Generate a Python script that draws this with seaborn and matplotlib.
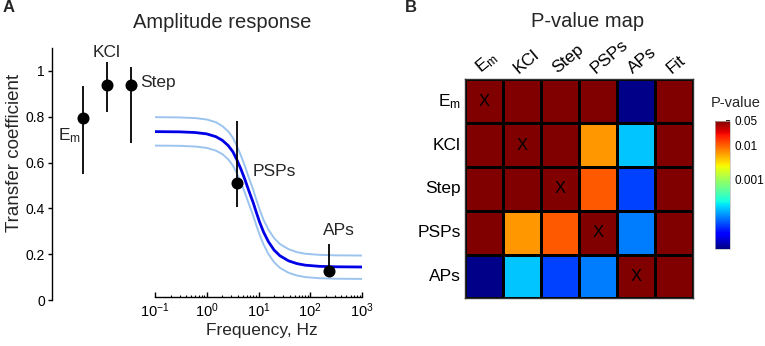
import numpy as np
import pandas as pd
import matplotlib
matplotlib.use('Agg')
import matplotlib.pyplot as plt
import matplotlib.transforms as mtransforms
from matplotlib.colors import LogNorm
import seaborn as sns

# ---- data: panel A, stationary measures ----
cat_labels = ['E$_\\mathrm{m}$', 'KCl', 'Step']
cat_value = [0.793, 0.939, 0.939]
cat_low = [0.55, 0.82, 0.687]
cat_high = [0.934, 1.04, 1.019]

# ---- data: panel A, frequency measures ----
freq_labels = ['PSPs', 'APs']
freq_hz = [3.8, 230]
freq_value = [0.51, 0.128]
freq_low = [0.407, 0.115]
freq_high = [0.783, 0.243]

# fitted amplitude response and its confidence band
fit_freq = [0.1, 0.3, 0.6, 1.0, 1.5, 2.0, 2.6, 3.2, 3.8, 4.6, 5.5, 6.5, 7.9,
            9.0, 10.5, 12.5, 15.5, 20, 26, 38, 55, 80, 150, 300, 1000]
fit_mean = [0.735, 0.734, 0.731, 0.725, 0.713, 0.697, 0.674, 0.647, 0.613,
            0.570, 0.524, 0.477, 0.425, 0.385, 0.340, 0.297, 0.255, 0.218,
            0.193, 0.171, 0.159, 0.152, 0.147, 0.145, 0.144]
fit_upper = [0.798, 0.797, 0.794, 0.788, 0.776, 0.759, 0.736, 0.708, 0.674,
             0.629, 0.582, 0.534, 0.481, 0.440, 0.395, 0.350, 0.308, 0.270,
             0.244, 0.222, 0.209, 0.202, 0.197, 0.195, 0.194]
fit_lower = [0.674, 0.673, 0.670, 0.664, 0.652, 0.637, 0.614, 0.587, 0.554,
             0.512, 0.466, 0.420, 0.368, 0.329, 0.285, 0.243, 0.201, 0.165,
             0.140, 0.119, 0.107, 0.100, 0.095, 0.093, 0.092]

# ---- data: panel B, p-values (1 = not significant) ----
row_labels = ['E$_\\mathrm{m}$', 'KCl', 'Step', 'PSPs', 'APs']
col_labels = ['E$_\\mathrm{m}$', 'KCl', 'Step', 'PSPs', 'APs', 'Fit']
p_em = [1, 1, 1, 1, 1.1e-5, 1]
p_kcl = [1, 1, 1, 0.0058, 1.5e-4, 1]
p_step = [1, 1, 1, 0.0104, 5e-5, 1]
p_psps = [1, 0.0058, 0.0104, 1, 8.4e-5, 1]
p_aps = [1.1e-5, 1.5e-4, 5e-5, 8.4e-5, 1, 1]
cbar_ticks = [0.05, 0.01, 0.001]

sns.set_theme(style='ticks')
plt.rcParams['font.family'] = ['Liberation Sans', 'DejaVu Sans']
plt.rcParams['mathtext.fontset'] = 'custom'
plt.rcParams['mathtext.rm'] = 'Liberation Sans'
plt.rcParams['mathtext.it'] = 'Liberation Sans:italic'
plt.rcParams['axes.edgecolor'] = 'black'
plt.rcParams['xtick.color'] = 'black'
plt.rcParams['ytick.color'] = 'black'

W, H = 765, 346
fig = plt.figure(figsize=(W / 100, H / 100), dpi=100)


def box(x0, y0, x1, y1):
    # pixel box (top-left origin) -> figure fraction rect
    return [x0 / W, 1 - y1 / H, (x1 - x0) / W, (y1 - y0) / H]


# ================= panel A =================
ax_c = fig.add_axes(box(52, 48, 150, 300))
ax_f = fig.add_axes(box(155, 48, 362, 300))
ax_f.patch.set_visible(False)

pos = list(range(len(cat_labels)))
ax_c.vlines(pos, cat_low, cat_high, color='black', lw=1.3)
sns.scatterplot(x=pos, y=cat_value, color='black', s=75, linewidth=0,
                ax=ax_c, zorder=3)
ax_c.set_xlim(-1.3, 2.8)
ax_c.set_ylim(0, 1.1)
ax_c.set_xticks([])
ax_c.set_yticks([0, 0.2, 0.4, 0.6, 0.8, 1], labels=['0', '0.2', '0.4', '0.6', '0.8', '1'])
ax_c.tick_params(axis='y', direction='out', length=3, width=1, labelsize=10, pad=2)
for s in ['top', 'right', 'bottom']:
    ax_c.spines[s].set_visible(False)
ax_c.spines['left'].set_linewidth(1)

offsets_c = [(-1.5, -16, 'right'), (0, 20, 'center'), (6.5, -1.7, 'left')]
for p, v, lab, (dx, dy, ha) in zip(pos, cat_value, cat_labels, offsets_c):
    ax_c.annotate(lab, xy=(p, v), xytext=(dx, dy), textcoords='offset points',
                  ha=ha, va='baseline', fontsize=12.5, annotation_clip=False)

sns.lineplot(x=fit_freq, y=fit_upper, color='#9cc4ee', lw=1.4, ax=ax_f)
sns.lineplot(x=fit_freq, y=fit_lower, color='#9cc4ee', lw=1.4, ax=ax_f)
sns.lineplot(x=fit_freq, y=fit_mean, color='#0000e6', lw=2.0, ax=ax_f)
ax_f.vlines(freq_hz, freq_low, freq_high, color='black', lw=1.3, zorder=3)
sns.scatterplot(x=freq_hz, y=freq_value, color='black', s=75, linewidth=0,
                ax=ax_f, zorder=4)
ax_f.set_xscale('log')
ax_f.set_xlim(0.1, 1000)
ax_f.set_ylim(0, 1.1)
ax_f.set_yticks([])
for s in ['top', 'right', 'left']:
    ax_f.spines[s].set_visible(False)
ax_f.spines['bottom'].set_position(('data', 0.013))
ax_f.spines['bottom'].set_linewidth(1)
ax_f.tick_params(axis='x', which='major', direction='in', length=3.5, width=1,
                 labelsize=10.5, pad=3.5)
ax_f.tick_params(axis='x', which='minor', direction='in', length=1.8, width=0.8)

offsets_f = [(11.5, 5.3, 'left'), (7.2, 25.7, 'center')]
for f, v, lab, (dx, dy, ha) in zip(freq_hz, freq_value, freq_labels, offsets_f):
    ax_f.annotate(lab, xy=(f, v), xytext=(dx, dy), textcoords='offset points',
                  ha=ha, va='baseline', fontsize=12.5)

fig.text(3 / W, 1 - 8 / H, 'A', fontsize=12, weight='bold', ha='left', va='center')
fig.text(222 / W, 1 - 22 / H, 'Amplitude response', fontsize=14.5, ha='center', va='center')
fig.text(15 / W, 1 - 153 / H, 'Transfer coefficient', fontsize=13.5, rotation=90,
         ha='center', va='center')
fig.text(262 / W, 1 - 330 / H, 'Frequency, Hz', fontsize=12.5, ha='center', va='center')

# ================= panel B =================
pvals = pd.DataFrame([p_em, p_kcl, p_step, p_psps, p_aps],
                     index=row_labels, columns=col_labels)
annot = np.full(pvals.shape, '', dtype=object)
for i in range(len(row_labels)):
    annot[i, i] = 'X'

ax_h = fig.add_axes(box(465, 79.3, 693.3, 298.3))
cax = fig.add_axes(box(715, 120.7, 730, 249.3))
sns.heatmap(pvals, ax=ax_h, cbar_ax=cax, cmap='jet',
            norm=LogNorm(vmin=1e-5, vmax=0.05),
            annot=annot, fmt='', annot_kws={'color': 'black', 'fontsize': 12},
            linewidths=1.0, linecolor='black')
ax_h.xaxis.tick_top()
ax_h.set_xticklabels(col_labels, rotation=40, ha='left', va='baseline',
                     rotation_mode='anchor', fontsize=12.5)
ax_h.set_yticklabels(row_labels, rotation=0, fontsize=12.5)
ax_h.tick_params(axis='both', length=0)
ax_h.tick_params(axis='x', pad=4)
ax_h.tick_params(axis='y', pad=3)
shift = mtransforms.ScaledTranslation(-3 / 100, 0, fig.dpi_scale_trans)
for lbl in ax_h.get_xticklabels():
    lbl.set_transform(lbl.get_transform() + shift)
for s in ax_h.spines.values():
    s.set_visible(True)
    s.set_color('#333333')
    s.set_linewidth(1)

cbar = ax_h.collections[0].colorbar
cbar.minorticks_off()
cbar.set_ticks(cbar_ticks, labels=['0.05', '0.01', '0.001'])
cbar.outline.set_edgecolor('#bbbbbb')
cbar.outline.set_linewidth(0.5)
cax.tick_params(direction='in', length=3, width=1.2, labelsize=8.5, pad=3)

fig.text(405 / W, 1 - 8 / H, 'B', fontsize=12, weight='bold', ha='left', va='center')
fig.text(587.5 / W, 1 - 21.7 / H, 'P-value map', fontsize=14.5, ha='center', va='center')
fig.text(736 / W, 1 - 103 / H, 'P-value', fontsize=10.5, ha='center', va='center')

fig.savefig('out.png', dpi=100)
